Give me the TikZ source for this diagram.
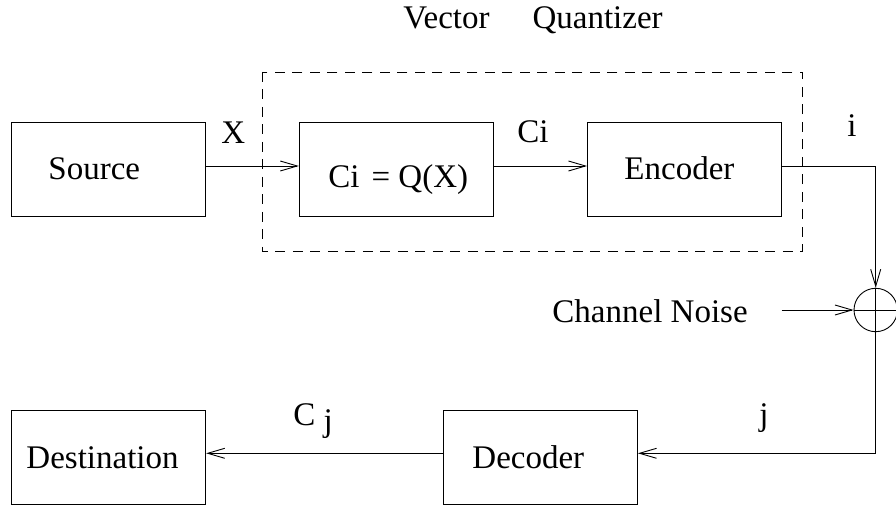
\documentclass[tikz,border=0pt]{standalone}
\usepackage{fontspec}
\setmainfont{Liberation Serif}
\usetikzlibrary{arrows.meta}
\begin{document}
\begin{tikzpicture}[x=1pt,y=-1pt,
  line width=0.9pt,
  blk/.style={draw, rectangle, inner sep=0pt, minimum width=194pt, minimum height=93.5pt},
  txt/.style={inner sep=0pt, anchor=base west, font=\fontsize{33}{40}\selectfont},
  arr/.style={-{Straight Barb[length=17pt,width=10pt]}},
  grp/.style={draw, dash pattern=on 10pt off 7.5pt, line width=0.9pt}]
\useasboundingbox (0,0) rectangle (896,510);

% quantizer group outline
\draw[grp] (262.5,72) rectangle (802.7,251.7);

% blocks
\node[blk] (src)   at (108.7,169.5) {};
\node[blk] (quant) at (396.3,169.5) {};
\node[blk] (enc)   at (684.5,169.5) {};
\node[blk] (dst)   at (108.7,457.3) {};
\node[blk] (dec)   at (540.5,457.3) {};
\node[draw, circle, inner sep=0pt, minimum size=43.4pt] (sum) at (875.7,310) {};
\coordinate (nz) at (781.7,310);

% texts
\node[txt] (ttl)  at (403,29)  {Vector\hspace{43pt}Quantizer};
\node[txt] (tsrc) at (48,180)  {Source};
\node[txt] (tq)   at (328,188) {Ci\hspace{12pt}= Q(X)};
\node[txt] (tenc) at (624,180) {Encoder};
\node[txt] (tdec) at (472,468.3) {Decoder};
\node[txt] (tdst) at (26,468.3) {Destination};
\node[txt] (tnz)  at (552,323) {Channel Noise};
\node[txt] (lx)   at (221,144) {X};
\node[txt] (lci)  at (517,143) {Ci};
\node[txt] (li)   at (847,137) {i};
\node[txt] (lj)   at (759,425) {j};
\node[txt] (lcj)  at (293,425) {C \raisebox{-6pt}{j}};

% connectors
\draw[arr] ([yshift=3.5pt]src.east) -- ([yshift=3.5pt]quant.west);
\draw[arr] ([yshift=3.5pt]quant.east) -- ([yshift=3.5pt]enc.west);
\draw[arr] ([yshift=3.5pt]enc.east) -| (sum.north);
\draw[arr] (nz) -- (sum.west);
\draw (sum.west) -- (sum.east);
\draw (sum.north) -- (sum.south);
\draw[arr] (sum.south) |- ([yshift=4pt]dec.east);
\draw[arr] ([yshift=4pt]dec.west) -- ([yshift=4pt]dst.east);
\end{tikzpicture}
\end{document}
